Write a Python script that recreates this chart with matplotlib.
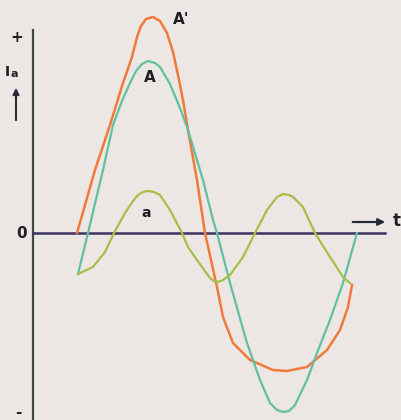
import matplotlib.pyplot as plt

# values: t and Ia in drawing units (origin at the axes crossing)
t_a_prime = [44, 62, 77, 90, 99, 104, 108, 113, 120, 127, 134, 140, 145, 150, 155,
             164, 172, 184, 190, 200, 217, 240, 254, 274, 294, 307, 315, 319]
ia_a_prime = [0, 63, 108, 150, 176, 196, 207, 214, 216, 212, 200, 181, 158, 133, 103,
              53, 0, -54, -84, -110, -127, -137, -138, -134, -117, -97, -74, -52]

t_A = [45, 55, 70, 80, 89, 97, 103, 109, 115, 122, 127, 137, 147, 155, 170,
       180, 184, 197, 214, 227, 237, 244, 250, 256, 262, 274, 284, 297, 310, 324]
ia_A = [-41, 0, 63, 108, 132, 150, 162, 169, 172, 170, 166, 149, 125, 103, 53,
        13, 0, -50, -110, -147, -170, -177, -179, -178, -172, -147, -120, -87, -50, 0]

t_a = [45, 60, 72, 81, 92, 100, 105, 110, 115, 121, 127, 137, 149, 155, 164, 177,
       181, 185, 190, 197, 210, 222, 234, 244, 250, 256, 260, 270, 276, 282, 297, 310, 317]
ia_a = [-41, -34, -19, 0, 20, 32, 38, 41, 42, 41, 38, 23, 0, -14, -27, -45,
        -48, -49, -47, -42, -24, 0, 23, 36, 39, 38, 36, 26, 13, 0, -24, -44, -50]

fig = plt.figure(figsize=(4.01, 4.20), dpi=100)
fig.patch.set_facecolor('#ece7e4')
ax = fig.add_axes([0, 0, 1, 1])
ax.set_facecolor('#ece7e4')
ax.set_xlim(-33, 368)
ax.set_ylim(-187, 233)
ax.axis('off')

# axes
ax.plot([0, 0], [203, -190], color='#3c4a47', lw=1.6)
ax.plot([0, 352], [0, 0], color='#3b3362', lw=1.8)
ax.annotate('', xy=(355, 11), xytext=(317, 11),
            arrowprops=dict(arrowstyle='-|>', color='#2a2a3a', lw=1.6, mutation_scale=10))
ax.annotate('', xy=(-17, 148), xytext=(-17, 110),
            arrowprops=dict(arrowstyle='-|>', color='#2a2a3a', lw=1.5, mutation_scale=9))

# curves
ax.plot(t_a_prime, ia_a_prime, color='#f07a3a', lw=1.8, solid_joinstyle='round')
ax.plot(t_A, ia_A, color='#62bfa2', lw=1.6, solid_joinstyle='round')
ax.plot(t_a, ia_a, color='#a7bf45', lw=1.6, solid_joinstyle='round')

txt = dict(color='#1e1e22', fontweight='bold', family='DejaVu Sans')
ax.text(-16, 196, '+', fontsize=11, ha='center', va='center', **txt)
ax.text(-26, 161, 'I', fontsize=10, ha='center', va='center', **txt)
ax.text(-19, 159, 'a', fontsize=8, ha='center', va='center', **txt)
ax.text(-11, 0, '0', fontsize=11, ha='center', va='center', **txt)
ax.text(-15, -179, '-', fontsize=11, ha='center', va='center', **txt)
ax.text(148, 213, "A'", fontsize=11, ha='center', va='center', **txt)
ax.text(117, 155, 'A', fontsize=11, ha='center', va='center', **txt)
ax.text(113, 20, 'a', fontsize=10, ha='center', va='center', **txt)
ax.text(364, 12, 't', fontsize=12, ha='center', va='center', **txt)

fig.savefig('out.png', dpi=100, facecolor=fig.get_facecolor())
